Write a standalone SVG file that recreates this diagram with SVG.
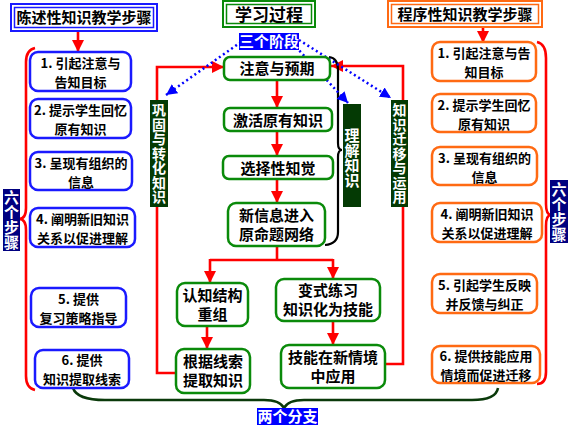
<svg xmlns="http://www.w3.org/2000/svg" width="570" height="426" viewBox="0 0 570 426">
<defs>
<marker id="ar" viewBox="0 0 10 10" refX="10" refY="5" markerWidth="12" markerHeight="13" markerUnits="userSpaceOnUse" orient="auto"><path d="M0,0 L10,5 L0,10 z" fill="#ff0000"/></marker>
<marker id="ab" viewBox="0 0 10 10" refX="10" refY="5" markerWidth="11" markerHeight="11" markerUnits="userSpaceOnUse" orient="auto"><path d="M0,0 L10,5 L0,10 z" fill="#0000ff"/></marker>
</defs>
<style>
text{font-family:"Noto Sans CJK SC","Noto Sans",sans-serif;font-weight:bold;text-anchor:middle;fill:#000;}
.t13{font-size:13px;}
.t14{font-size:14px;}
.t15{font-size:15px;}
.t17{font-size:17px;}
.w{fill:#fff;}
.v{writing-mode:vertical-rl;text-orientation:upright;}
.bl{fill:#fff;stroke:#1a1aff;stroke-width:2.5;}
.gr{fill:#fff;stroke:#0a8a0a;stroke-width:2.5;}
.or{fill:#fff;stroke:#ff6a13;stroke-width:2.5;}
.red{fill:none;stroke:#ff0000;stroke-width:2.6;}
.dot{fill:none;stroke:#0000ff;stroke-width:2.5;stroke-dasharray:2 3;}
.lab{fill:#043a04;}
.nav{fill:#000080;}
.blu{fill:#0000ff;}
</style>
<rect width="570" height="426" fill="#fff"/>

<!-- connectors -->
<g id="connectors">
<line class="red" x1="78" y1="31" x2="78" y2="52" marker-end="url(#ar)"/>
<line class="red" x1="483" y1="27" x2="483" y2="43" marker-end="url(#ar)"/>
<line class="red" x1="277" y1="80" x2="277" y2="108" marker-end="url(#ar)"/>
<line class="red" x1="277" y1="131" x2="277" y2="156" marker-end="url(#ar)"/>
<line class="red" x1="277" y1="179" x2="277" y2="203" marker-end="url(#ar)"/>
<polyline class="red" points="277,246 277,260"/>
<polyline class="red" points="210,260 333,260"/>
<line class="red" x1="210" y1="259" x2="210" y2="283" marker-end="url(#ar)"/>
<line class="red" x1="333" y1="259" x2="333" y2="279" marker-end="url(#ar)"/>
<line class="red" x1="207" y1="326" x2="207" y2="349" marker-end="url(#ar)"/>
<line class="red" x1="333" y1="321" x2="333" y2="345" marker-end="url(#ar)"/>
<polyline class="red" points="176,373 157,373 157,207"/>
<polyline class="red" points="157,100 157,67 224,67" marker-end="url(#ar)"/>
<polyline class="red" points="385,364 403,364 403,207"/>
<polyline class="red" points="403,100 403,66 331,66" marker-end="url(#ar)"/>
<path class="red" d="M35,48 Q26,50 26,62 L26,208 Q26,219 19,219 Q26,219 26,230 L26,376 Q26,388 35,390"/>
<path class="red" d="M537,42 Q546,44 546,58 L546,204 Q546,215 551,215 Q546,215 546,226 L546,372 Q546,384 537,384"/>
<path d="M329,57 Q338,58 338,70 L338,143 Q338,150 342,150 Q338,150 338,157 L338,232 Q338,244 325,245" fill="none" stroke="#000" stroke-width="2.2"/>
<line class="dot" x1="241" y1="42" x2="166" y2="95" marker-end="url(#ab)"/>
<line class="dot" x1="296" y1="47" x2="348" y2="103" marker-end="url(#ab)"/>
<line class="dot" x1="299" y1="40" x2="391" y2="98" marker-end="url(#ab)"/>
<path d="M73,388 Q77,400 105,400 L264,400 Q280,400 284,408 Q288,400 304,400 L472,400 Q496,400 498,388" fill="none" stroke="#0a3a0a" stroke-width="2.5"/>
</g>

<!-- titles -->
<g id="title-left">
<rect x="11" y="4" width="146" height="27" fill="#fff" stroke="#1a1aff" stroke-width="2"/>
<rect x="14.5" y="7.5" width="139" height="20" fill="none" stroke="#1a1aff" stroke-width="1.5"/>
<text class="t15" x="84" y="23">陈述性知识教学步骤</text>
</g>
<g id="title-center">
<rect x="223" y="1" width="92" height="26" fill="#fff" stroke="#0a8a0a" stroke-width="2"/>
<rect x="226.5" y="4.5" width="85" height="19" fill="none" stroke="#0a8a0a" stroke-width="1.5"/>
<text class="t17" x="269" y="20.5">学习过程</text>
</g>
<g id="title-right">
<rect x="388" y="1" width="154" height="26" fill="#fff" stroke="#ff6a13" stroke-width="2"/>
<rect x="391.5" y="4.5" width="147" height="19" fill="none" stroke="#ff6a13" stroke-width="1.5"/>
<text class="t15" x="465" y="20">程序性知识教学步骤</text>
</g>

<!-- left steps -->
<g id="l1"><rect class="bl" x="30" y="52" width="101" height="39" rx="8"/><text class="t13"><tspan x="80.5" y="67.5">1. 引起注意与</tspan><tspan x="80.5" y="86.5">告知目标</tspan></text></g>
<g id="l2"><rect class="bl" x="30" y="99" width="101" height="39" rx="8"/><text class="t13"><tspan x="80.5" y="114.5">2. 提示学生回忆</tspan><tspan x="80.5" y="133.5">原有知识</tspan></text></g>
<g id="l3"><rect class="bl" x="30" y="152" width="102" height="38" rx="8"/><text class="t13"><tspan x="81" y="167.5">3. 呈现有组织的</tspan><tspan x="81" y="186.5">信息</tspan></text></g>
<g id="l4"><rect class="bl" x="30" y="208" width="105" height="39" rx="8"/><text class="t13"><tspan x="82.5" y="223.5">4. 阐明新旧知识</tspan><tspan x="82.5" y="242.5">关系以促进理解</tspan></text></g>
<g id="l5"><rect class="bl" x="31" y="288" width="95" height="39" rx="8"/><text class="t13"><tspan x="78.5" y="303.5">5. 提供</tspan><tspan x="78.5" y="322.5">复习策略指导</tspan></text></g>
<g id="l6"><rect class="bl" x="35" y="350" width="94" height="38" rx="8"/><text class="t13"><tspan x="82" y="365">6. 提供</tspan><tspan x="82" y="384">知识提取线索</tspan></text></g>

<!-- right steps -->
<g id="r1"><rect class="or" x="432" y="42" width="104" height="39" rx="8"/><text class="t13"><tspan x="484" y="57.5">1. 引起注意与告</tspan><tspan x="484" y="76.5">知目标</tspan></text></g>
<g id="r2"><rect class="or" x="432" y="94" width="104" height="38" rx="8"/><text class="t13"><tspan x="484" y="109.5">2. 提示学生回忆</tspan><tspan x="484" y="128.5">原有知识</tspan></text></g>
<g id="r3"><rect class="or" x="432" y="147" width="105" height="38" rx="8"/><text class="t13"><tspan x="484.5" y="162.5">3. 呈现有组织的</tspan><tspan x="484.5" y="181.5">信息</tspan></text></g>
<g id="r4"><rect class="or" x="432" y="203" width="110" height="39" rx="8"/><text class="t13"><tspan x="487" y="218.5">4. 阐明新旧知识</tspan><tspan x="487" y="237.5">关系以促进理解</tspan></text></g>
<g id="r5"><rect class="or" x="432" y="274" width="105" height="39" rx="8"/><text class="t13"><tspan x="484.5" y="289.5">5. 引起学生反映</tspan><tspan x="484.5" y="308.5">并反馈与纠正</tspan></text></g>
<g id="r6"><rect class="or" x="432" y="346" width="108" height="37" rx="8"/><text class="t13"><tspan x="486" y="361">6. 提供技能应用</tspan><tspan x="486" y="380">情境而促进迁移</tspan></text></g>

<!-- center process -->
<g id="c1"><rect class="gr" x="224" y="57" width="106" height="23" rx="6"/><text class="t15" x="277" y="74">注意与预期</text></g>
<g id="c2"><rect class="gr" x="224" y="108" width="108" height="23" rx="6"/><text class="t15" x="278" y="125.5">激活原有知识</text></g>
<g id="c3"><rect class="gr" x="223" y="156" width="110" height="23" rx="6"/><text class="t15" x="278" y="174">选择性知觉</text></g>
<g id="c4"><rect class="gr" x="228" y="203" width="97" height="43" rx="8"/><text class="t15"><tspan x="276.5" y="220.5">新信息进入</tspan><tspan x="276.5" y="239.5">原命题网络</tspan></text></g>
<g id="c5"><rect class="gr" x="177" y="283" width="71" height="43" rx="8"/><text class="t15"><tspan x="212.5" y="300.5">认知结构</tspan><tspan x="212.5" y="319.5">重组</tspan></text></g>
<g id="c6"><rect class="gr" x="276" y="279" width="104" height="42" rx="8"/><text class="t15"><tspan x="328" y="296">变式练习</tspan><tspan x="328" y="315">知识化为技能</tspan></text></g>
<g id="c7"><rect class="gr" x="176" y="349" width="74" height="44" rx="8"/><text class="t15"><tspan x="213" y="367">根据线索</tspan><tspan x="213" y="386">提取知识</tspan></text></g>
<g id="c8"><rect class="gr" x="281" y="345" width="104" height="43" rx="8"/><text class="t15"><tspan x="333" y="362.5">技能在新情境</tspan><tspan x="333" y="381.5">中应用</tspan></text></g>

<!-- labels -->
<g id="lab-gonggu"><rect class="lab" x="150" y="100" width="18" height="107"/>
<text class="t14 w v" x="159" y="153.5" letter-spacing="0.5">巩固与转化知识</text></g>
<g id="lab-lijie"><rect class="lab" x="343" y="104" width="18" height="103"/>
<text class="t15 w v" x="352" y="158">理解知识</text></g>
<g id="lab-qianyi"><rect class="lab" x="391" y="100" width="17" height="107"/>
<text class="t14 w v" x="399.5" y="153.5" letter-spacing="0.5">知识迁移与运用</text></g>
<g id="lab-six-left"><rect class="nav" x="3" y="189" width="17" height="62"/>
<text class="t15 w v" x="11.5" y="220">六个步骤</text></g>
<g id="lab-six-right"><rect class="nav" x="550" y="180" width="18" height="63"/>
<text class="t15 w v" x="559" y="211.5">六个步骤</text></g>
<g id="lab-three"><rect class="blu" x="239" y="33" width="60" height="17"/><text class="t15 w" x="269" y="47">三个阶段</text></g>
<g id="lab-two"><rect class="blu" x="257" y="408" width="61" height="17"/><text class="t15 w" x="287.5" y="422">两个分支</text></g>
</svg>
